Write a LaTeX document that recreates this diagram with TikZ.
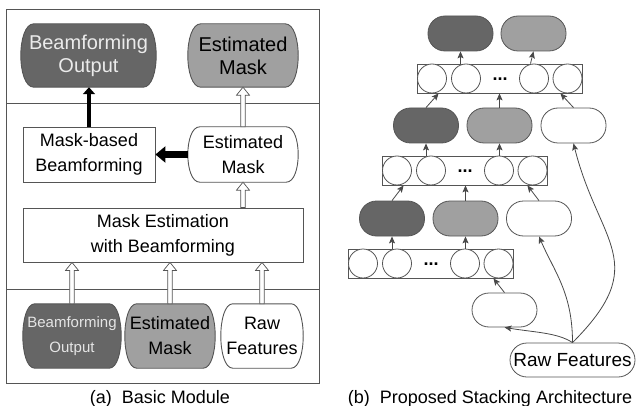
\documentclass[tikz,border=0pt]{standalone}
\usepackage{fontspec}
\setmainfont{Liberation Sans}
\usetikzlibrary{arrows.meta,calc,backgrounds}
\definecolor{dk}{HTML}{666666}
\definecolor{lt}{HTML}{A0A0A0}
\definecolor{ln}{HTML}{555555}
% soft box: straight top/bottom, bulging curved sides
\newcommand\softshape[3]{%
  \draw[draw=ln, line width=0.9pt, fill=#2]
    ([xshift=#3]#1.north west) -- ([xshift=-#3]#1.north east)
    .. controls ([xshift=#3/3]#1.north east) and ([xshift=#3/3]#1.south east) .. ([xshift=-#3]#1.south east)
    -- ([xshift=#3]#1.south west)
    .. controls ([xshift=-#3/3]#1.south west) and ([xshift=-#3/3]#1.north west) .. cycle;}
\begin{document}
\begin{tikzpicture}[x=1pt,y=-1pt,
  box/.style={inner sep=0pt, align=center},
  pill/.style={draw=ln, line width=0.8pt, minimum width=65pt, minimum height=35pt, rounded corners=17pt, inner sep=0pt},
  neuron/.style={circle, draw=ln, line width=0.8pt, fill=white, minimum size=29pt, inner sep=0pt},
  layer/.style={draw=ln, line width=0.8pt, minimum width=165pt, minimum height=29pt, inner sep=0pt},
  conn/.style={draw=ln!85!black, line width=0.8pt, -{Stealth[length=7pt,width=6pt,inset=1.5pt]}},
  hollow/.style={draw=ln, fill=white, line width=0.7pt, line join=miter,
    to path={let \p1=(\tikztostart), \p2=(\tikztotarget) in
      (\x1-2.3pt,\y1) -- (\x1-2.3pt,\y2-8pt) -- (\x1-6.5pt,\y2-8pt) -- (\x1,\y2)
      -- (\x1+6.5pt,\y2-8pt) -- (\x1+2.3pt,\y2-8pt) -- (\x1+2.3pt,\y1) -- cycle}},
  thickarrow/.style={draw=black, line width=4pt, -{Triangle[length=7pt,width=12pt]}},
  f20/.style={font=\fontsize{20}{23}\selectfont},
  f18/.style={font=\fontsize{18}{25}\selectfont},
  f15/.style={font=\fontsize{15}{25}\selectfont},
  dots/.style={inner sep=0pt, font=\fontsize{18}{18}\bfseries\selectfont}
]
\useasboundingbox (0,0) rectangle (636,406);

% ---------- (a) Basic Module ----------
\draw[ln, line width=0.9pt] (6,9) rectangle (319,383);
\draw[ln, line width=0.9pt] (6,103) -- (319,103);
\draw[ln, line width=0.9pt] (6,289) -- (319,289);

\node[box, text=white!92!black, minimum width=135pt, minimum height=63pt, f20] (bfo) at (88.5,55.5) {Beamforming\\Output};
\node[box, minimum width=110pt, minimum height=63pt, f20] (emt) at (243,55.5) {Estimated\\Mask};
\node[box, draw=ln, line width=0.9pt, fill=white, minimum width=132pt, minimum height=55pt, f18] (mbb) at (89,154.5) {Mask-based\\Beamforming};
\node[box, minimum width=110pt, minimum height=55pt, f18] (emm) at (243,154.5) {Estimated\\Mask};
\node[box, draw=ln, line width=0.9pt, fill=white, minimum width=280pt, minimum height=54pt, f18] (mewb) at (163,235) {Mask Estimation\\with Beamforming};
\node[box, text=white!90!black, minimum width=98pt, minimum height=64pt, f15] (bfb) at (72,336) {Beamforming\\Output};
\node[box, minimum width=90pt, minimum height=64pt, f18] (emb) at (170,336) {Estimated\\Mask};
\node[box, minimum width=82pt, minimum height=64pt, f18] (rfb) at (262,336) {Raw\\Features};

\begin{pgfonlayer}{background}
\softshape{bfo}{dk}{13pt}
\softshape{emt}{lt}{13pt}
\softshape{emm}{white}{12pt}
\softshape{bfb}{dk}{12pt}
\softshape{emb}{lt}{12pt}
\softshape{rfb}{white}{12pt}
\end{pgfonlayer}

\draw[thickarrow] (mbb.north) -- (mbb.north |- bfo.south);
\draw[thickarrow, line width=7pt, -{Triangle[length=10pt,width=16pt]}] (emm.west) -- (mbb.east);
\draw[hollow] (emm.north) to (emt.south);
\draw[hollow] (mewb.north -| emm.south) to (emm.south);
\draw[hollow] (bfb.north) to (bfb.north |- mewb.south);
\draw[hollow] (emb.north) to (emb.north |- mewb.south);
\draw[hollow] (rfb.north) to (rfb.north |- mewb.south);

\node[f18, anchor=base] (capa) at (160,403) {(a)\ \ Basic Module};

% ---------- (b) Proposed Stacking Architecture ----------
\node[pill, fill=dk] (tdark) at (460.5,33.5) {};
\node[pill, fill=lt] (tlight) at (533.5,33.5) {};
\node[layer] (tlayer) at (499.5,78.5) {};
\node[neuron] (t1) at (432,78.5) {};
\node[neuron] (t2) at (466,78.5) {};
\node[neuron] (t3) at (534,78.5) {};
\node[neuron] (t4) at (567.5,78.5) {};
\node[dots] (tdots) at (500,79) {...};
\node[pill, fill=dk] (mdark) at (426,125.5) {};
\node[pill, fill=lt] (mlight) at (499.5,125.5) {};
\node[pill, fill=white] (mwhite) at (573.5,125.5) {};
\node[layer] (mlayer) at (464.5,170.5) {};
\node[neuron] (m1) at (397,170.5) {};
\node[neuron] (m2) at (431,170.5) {};
\node[neuron] (m3) at (499,170.5) {};
\node[neuron] (m4) at (532.5,170.5) {};
\node[dots] (mdots) at (465,171) {...};
\node[pill, fill=dk] (bdark) at (392,218.5) {};
\node[pill, fill=lt] (blight) at (465.5,218.5) {};
\node[pill, fill=white] (bwhite) at (539,218.5) {};
\node[layer] (blayer) at (430.5,263.5) {};
\node[neuron] (b1) at (363,263.5) {};
\node[neuron] (b2) at (397,263.5) {};
\node[neuron] (b3) at (465,263.5) {};
\node[neuron] (b4) at (498.5,263.5) {};
\node[dots] (bdots) at (431,264) {...};
\node[pill, fill=white, minimum height=34pt] (sp) at (504.5,310) {};
\node[draw=ln, line width=0.8pt, fill=white, rounded corners=17pt, minimum width=125pt, minimum height=34pt, inner sep=0pt, font=\fontsize{19}{19}\selectfont] (raw) at (572.5,360) {Raw Features};

\draw[conn] (tdark.south |- tlayer.north) -- (tdark.south);
\draw[conn] ([xshift=-3pt]tlight.south |- tlayer.north) -- (tlight.south);
\draw[conn] (mdark.north) -- ([xshift=22pt]tlayer.south west);
\draw[conn] (mlight.north) -- (mlight.north |- tlayer.south);
\draw[conn] (mwhite.north) -- ([xshift=-22pt]tlayer.south east);
\draw[conn] (mdark.south |- mlayer.north) -- (mdark.south);
\draw[conn] (mlight.south |- mlayer.north) -- (mlight.south);
\draw[conn] (bdark.north) -- ([xshift=22pt]mlayer.south west);
\draw[conn] (blight.north) -- (blight.north |- mlayer.south);
\draw[conn] (bwhite.north) -- ([xshift=-20pt]mlayer.south east);
\draw[conn] (bdark.south |- blayer.north) -- (bdark.south);
\draw[conn] (blight.south |- blayer.north) -- (blight.south);
\draw[conn] (sp.north) -- ([xshift=-20pt]blayer.south east);
\draw[conn] (raw.north) .. controls +(-15,-10) and +(30,5) .. (sp.south);
\draw[conn] (raw.north) .. controls +(0,-50) and +(15,35) .. (bwhite.south);
\draw[conn] (raw.north) .. controls +(80,-80) and +(25,100) .. (mwhite.south);

\node[f18, anchor=base] (capb) at (490,403) {(b)\ \ Proposed Stacking Architecture};
\end{tikzpicture}
\end{document}
